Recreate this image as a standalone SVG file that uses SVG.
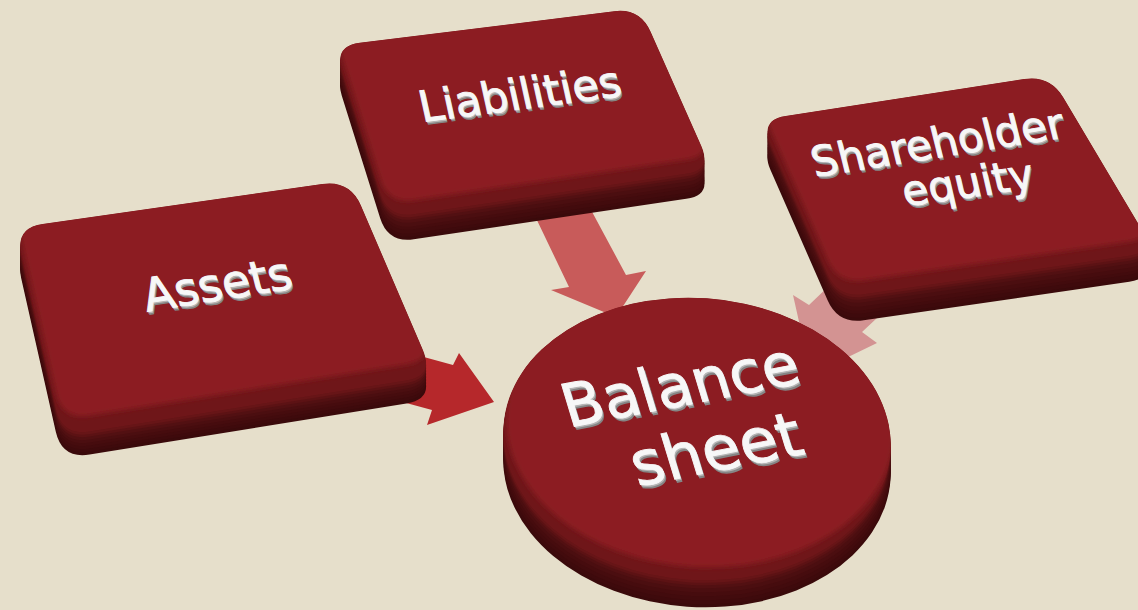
<svg xmlns="http://www.w3.org/2000/svg" xmlns:xlink="http://www.w3.org/1999/xlink" width="1138" height="610" viewBox="0 0 1138 610">
<style>
.s1{fill:#3a0a0b}.s2{fill:#3e0a0c}.s3{fill:#420b0d}.s4{fill:#460c0e}.s5{fill:#4b0e10}.s6{fill:#521012}.s7{fill:#5c1214}.s8{fill:#671517}
.bev{fill:#6f1619}
.top{fill:#8c1f22}
.lbl{font-family:"DejaVu Sans","Liberation Sans",sans-serif;text-anchor:middle}
.sh{fill:#858585}
.sh2{fill:#b5b5b5}
.fg{fill:#f7f7f7;stroke:#f7f7f7;stroke-width:0.9}
</style>
<defs>
<filter id="soft" x="-5%" y="-5%" width="110%" height="110%"><feGaussianBlur stdDeviation="2.5"/></filter>
<path id="pA" d="M42.7,224 L322.3,184 Q350,180 361,205.7 L423,350.3 Q434,376 406.4,380.5 L89.6,431.5 Q62,436 55.8,408.7 L21.2,255.3 Q15,228 42.7,224 Z"/>
<path id="pL" d="M359.8,42.8 L614.2,11.2 Q640,8 650.6,31.8 L701.4,146.2 Q712,170 686.3,173.8 L413.7,214.2 Q388,218 380.2,193.2 L341.8,70.8 Q334,46 359.8,42.8 Z"/>
<path id="pS" d="M785.7,116 L1024.3,79 Q1050,75 1063.3,97.4 L1141.7,229.6 Q1155,252 1129.3,255.7 L863.7,294.3 Q838,298 827.6,274.2 L770.4,143.8 Q760,120 785.7,116 Z"/>
<ellipse id="pB" cx="697" cy="439" rx="194" ry="141" transform="rotate(4 697 439)"/>
<clipPath id="cA"><use xlink:href="#pA"/></clipPath>
<clipPath id="cL"><use xlink:href="#pL"/></clipPath>
<clipPath id="cS"><use xlink:href="#pS"/></clipPath>
<clipPath id="cB"><use xlink:href="#pB"/></clipPath>
</defs>
<rect width="1138" height="610" fill="#e6dfcb"/>
<g id="connectors">
<polygon points="380,345 453,365 459,353 494,402 427,425 432,410 340,385" fill="#b6282b"/>
<polygon points="523,191 569,287 551,290 616,317 646,271 626,275 576,182" fill="#c85b5a"/>
<polygon points="854,262 809,305 793,295 811,375 877,343 862,332 907,290" fill="#d39392"/>
</g>
<g id="node-assets">
<use xlink:href="#pA" class="s1" transform="translate(0,23)"/>
<use xlink:href="#pA" class="s2" transform="translate(0,20)"/>
<use xlink:href="#pA" class="s3" transform="translate(0,17)"/>
<use xlink:href="#pA" class="s4" transform="translate(0,14)"/>
<use xlink:href="#pA" class="s5" transform="translate(0,11)"/>
<use xlink:href="#pA" class="s6" transform="translate(0,8)"/>
<use xlink:href="#pA" class="s7" transform="translate(0,5)"/>
<use xlink:href="#pA" class="s8" transform="translate(0,2.5)"/>
<g clip-path="url(#cA)">
<use xlink:href="#pA" class="bev"/>
<use xlink:href="#pA" class="top" transform="translate(0,-16)" filter="url(#soft)"/>
</g>
<g transform="translate(221,300) rotate(-9) skewX(5)" class="lbl" font-size="46">
<text class="sh" x="1" y="3.5">Assets</text>
<text class="sh2" x="0.5" y="1.8">Assets</text>
<text class="fg" x="0" y="0">Assets</text>
</g>
</g>
<g id="node-liabilities">
<use xlink:href="#pL" class="s1" transform="translate(0,25)"/>
<use xlink:href="#pL" class="s2" transform="translate(0,22)"/>
<use xlink:href="#pL" class="s3" transform="translate(0,19)"/>
<use xlink:href="#pL" class="s4" transform="translate(0,15)"/>
<use xlink:href="#pL" class="s5" transform="translate(0,12)"/>
<use xlink:href="#pL" class="s6" transform="translate(0,8)"/>
<use xlink:href="#pL" class="s7" transform="translate(0,5)"/>
<use xlink:href="#pL" class="s8" transform="translate(0,2.5)"/>
<g clip-path="url(#cL)">
<use xlink:href="#pL" class="bev"/>
<use xlink:href="#pL" class="top" transform="translate(0,-14)" filter="url(#soft)"/>
</g>
<g transform="translate(523,109) rotate(-7.4) skewX(5)" class="lbl" font-size="43">
<text class="sh" x="1" y="3.3">Liabilities</text>
<text class="sh2" x="0.5" y="1.7">Liabilities</text>
<text class="fg" x="0" y="0">Liabilities</text>
</g>
</g>
<g id="node-equity">
<use xlink:href="#pS" class="s1" transform="translate(0,26)"/>
<use xlink:href="#pS" class="s2" transform="translate(0,23)"/>
<use xlink:href="#pS" class="s3" transform="translate(0,19)"/>
<use xlink:href="#pS" class="s4" transform="translate(0,16)"/>
<use xlink:href="#pS" class="s5" transform="translate(0,12)"/>
<use xlink:href="#pS" class="s6" transform="translate(0,8)"/>
<use xlink:href="#pS" class="s7" transform="translate(0,5)"/>
<use xlink:href="#pS" class="s8" transform="translate(0,2.5)"/>
<g clip-path="url(#cS)">
<use xlink:href="#pS" class="bev"/>
<use xlink:href="#pS" class="top" transform="translate(0,-14)" filter="url(#soft)"/>
</g>
<g transform="translate(941,157) rotate(-9) skewX(5)" class="lbl" font-size="42">
<text class="sh" x="1" y="3.3">Shareholder</text>
<text class="sh2" x="0.5" y="1.7">Shareholder</text>
<text class="fg" x="0" y="0">Shareholder</text>
</g>
<g transform="translate(971,197) rotate(-8) skewX(5)" class="lbl" font-size="42">
<text class="sh" x="1" y="3.3">equity</text>
<text class="sh2" x="0.5" y="1.7">equity</text>
<text class="fg" x="0" y="0">equity</text>
</g>
</g>
<g id="node-balance">
<use xlink:href="#pB" class="s1" transform="translate(0,27)"/>
<use xlink:href="#pB" class="s2" transform="translate(0,24)"/>
<use xlink:href="#pB" class="s3" transform="translate(0,20)"/>
<use xlink:href="#pB" class="s4" transform="translate(0,16)"/>
<use xlink:href="#pB" class="s5" transform="translate(0,12)"/>
<use xlink:href="#pB" class="s6" transform="translate(0,8)"/>
<use xlink:href="#pB" class="s7" transform="translate(0,5)"/>
<use xlink:href="#pB" class="s8" transform="translate(0,2.5)"/>
<g clip-path="url(#cB)">
<use xlink:href="#pB" class="bev"/>
<use xlink:href="#pB" class="top" transform="translate(3,-13)" filter="url(#soft)"/>
</g>
<g transform="translate(686,405) rotate(-10.8) skewX(6)" class="lbl" font-size="60">
<text class="sh" x="1.2" y="4">Balance</text>
<text class="sh2" x="0.6" y="2">Balance</text>
<text class="fg" x="0" y="0">Balance</text>
</g>
<g transform="translate(722,470) rotate(-11) skewX(6)" class="lbl" font-size="62">
<text class="sh" x="1.2" y="4">sheet</text>
<text class="sh2" x="0.6" y="2">sheet</text>
<text class="fg" x="0" y="0">sheet</text>
</g>
</g>
</svg>
